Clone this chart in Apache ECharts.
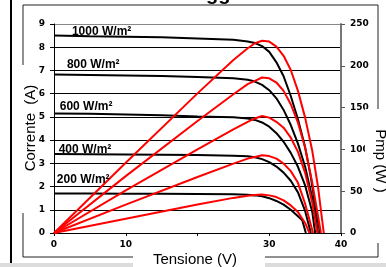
<!DOCTYPE html>
<html>
<head>
<meta charset="utf-8">
<script src="https://cdn.jsdelivr.net/npm/echarts@6/dist/echarts.min.js"></script>
<style>
html, body { margin: 0; padding: 0; background: #fff; }
#main { width: 386px; height: 267px; }
</style>
</head>
<body>
<div id="main"></div>
<script>
// curve names and where their labels sit (volt, ampere)
var irradiances = ['1000 W/m²', '800 W/m²', '600 W/m²', '400 W/m²', '200 W/m²'];
var labelAnchors = [[2.5, 8.68], [1.8, 7.25], [0.8, 5.44], [0.65, 3.59], [0.4, 2.3]];

// I-V curves (black, left axis)
var v1000 = [0, 5, 10, 15, 20, 25, 27, 28, 29, 30, 31, 32, 33, 34, 35, 35.8, 36.5, 37.1];
var i1000 = [8.5, 8.47, 8.45, 8.43, 8.38, 8.32, 8.25, 8.18, 8.05, 7.8, 7.35, 6.75, 5.9, 4.9, 3.7, 2.4, 1.0, 0];
var v800 = [0, 5, 10, 15, 20, 25, 27, 28, 29, 30, 31, 32, 33, 34, 35, 36, 36.8];
var i800 = [6.82, 6.8, 6.78, 6.76, 6.72, 6.66, 6.6, 6.52, 6.38, 6.15, 5.8, 5.3, 4.65, 3.85, 2.85, 1.5, 0];
var v600 = [0, 5, 10, 15, 20, 25, 27, 28, 29, 30, 31, 32, 33, 34, 35, 36, 36.4];
var i600 = [5.15, 5.13, 5.1, 5.07, 5.02, 4.98, 4.93, 4.87, 4.76, 4.58, 4.3, 3.93, 3.45, 2.85, 2.05, 0.9, 0];
var v400 = [0, 5, 10, 15, 20, 25, 27, 28, 29, 30, 31, 32, 33, 34, 35, 35.8];
var i400 = [3.4, 3.39, 3.38, 3.37, 3.36, 3.33, 3.3, 3.26, 3.18, 3.05, 2.86, 2.6, 2.25, 1.75, 0.95, 0];
var v200 = [0, 5, 10, 15, 20, 25, 27, 28, 29, 30, 31, 32, 33, 34, 34.6, 35.1];
var i200 = [1.7, 1.7, 1.69, 1.69, 1.68, 1.67, 1.65, 1.62, 1.58, 1.5, 1.38, 1.22, 1.0, 0.72, 0.55, 0];

// P-V curves (red, right axis)
var pv1000 = [0, 10, 20, 25, 27, 28, 29, 30, 31, 32, 33, 34, 35, 36, 36.8, 37.6];
var pp1000 = [0, 84, 167, 207, 221, 227, 230, 229, 223, 212, 195, 170, 138, 98, 55, 0];
var pv800 = [0, 10, 20, 25, 27, 28, 29, 30, 31, 32, 33, 34, 35, 36, 37.2];
var pp800 = [0, 68, 134, 166, 178, 182, 186, 185, 180, 170, 154, 132, 102, 60, 0];
var pv600 = [0, 10, 20, 25, 27, 28, 29, 30, 31, 32, 33, 34, 35, 36, 36.7];
var pp600 = [0, 51, 100, 124, 133, 137, 140, 138, 133, 126, 114, 97, 72, 36, 0];
var pv400 = [0, 10, 20, 25, 27, 28, 29, 30, 31, 32, 33, 34, 35, 36.1];
var pp400 = [0, 34, 67, 83, 89, 91, 93, 92, 89, 83, 74, 60, 35, 0];
var pv200 = [0, 10, 20, 25, 27, 28, 29, 30, 31, 32, 33, 34, 35, 35.6];
var pp200 = [0, 17, 34, 42, 44.5, 45.4, 46, 45, 43, 39, 33, 25, 12, 0];

var xTickLabels = ['0', '10', '', '30', '40'];

var ivSets = [[v1000, i1000], [v800, i800], [v600, i600], [v400, i400], [v200, i200]];
var pvSets = [[pv1000, pp1000], [pv800, pp800], [pv600, pp600], [pv400, pp400], [pv200, pp200]];

function pairs(xs, ys) {
	var out = [];
	for (var k = 0; k < xs.length; k++) out.push([xs[k], ys[k]]);
	return out;
}

var tickFont = { color: '#000', fontFamily: 'DejaVu Sans', fontWeight: 'bold', fontSize: 9 };

var series = [];
ivSets.forEach(function (s, n) {
	series.push({
		name: irradiances[n], type: 'line', yAxisIndex: 0, showSymbol: false, z: 3,
		lineStyle: { color: '#000', width: 2 },
		data: pairs(s[0], s[1])
	});
});
pvSets.forEach(function (s, n) {
	series.push({
		name: 'P ' + irradiances[n], type: 'line', yAxisIndex: 1, showSymbol: false, z: 4,
		lineStyle: { color: '#ff0000', width: 2 },
		data: pairs(s[0], s[1])
	});
});

var chart = echarts.init(document.getElementById('main'));
chart.setOption({
	animation: false,
	grid: { left: 54, right: 45, top: 24, bottom: 34 },
	xAxis: {
		type: 'value', min: 0, max: 40, interval: 10,
		axisLine: { lineStyle: { color: '#000', width: 1 } },
		axisTick: { show: true, length: 3, lineStyle: { color: '#000' } },
		axisLabel: Object.assign({ margin: 7, formatter: function (v) { return xTickLabels[v / 10]; } }, tickFont),
		splitLine: { show: false }
	},
	yAxis: [{
		type: 'value', min: 0, max: 9, interval: 1, position: 'left',
		axisLine: { show: true, lineStyle: { color: '#000', width: 1 } },
		axisTick: { show: true, length: 4, lineStyle: { color: '#000' } },
		axisLabel: Object.assign({ margin: 9 }, tickFont),
		splitLine: { show: true, lineStyle: { color: ['#000', '#000', '#000', '#000', '#000', '#000', '#000', '#000', '#000', '#888'], width: 1 } }
	}, {
		type: 'value', min: 0, max: 250, interval: 50, position: 'right',
		axisLine: { show: true, lineStyle: { color: '#777', width: 2 } },
		axisTick: { show: true, length: 4, lineStyle: { color: '#555' } },
		axisLabel: Object.assign({ margin: 9 }, tickFont),
		splitLine: { show: false }
	}],
	series: series
});

// frame, axis titles and curve labels
var graphics = [
	{ type: 'rect', shape: { x: 23, y: 5, width: 355, height: 252 }, style: { fill: null, stroke: '#222', lineWidth: 1 }, z: 100 },
	{ type: 'rect', shape: { x: 10, y: 0, width: 2, height: 263 }, style: { fill: '#000' }, z: 100 },
	{ type: 'rect', shape: { x: 0, y: 263, width: 386, height: 4 }, style: { fill: '#dcdcdc' }, z: 100 },
	{ type: 'rect', shape: { x: 19, y: 65, width: 18, height: 148 }, style: { fill: '#fff' }, z: 101 },
	{ type: 'rect', shape: { x: 133, y: 249, width: 132, height: 18 }, style: { fill: '#fff' }, z: 101 },
	{ type: 'rect', shape: { x: 365, y: 109, width: 21, height: 134 }, style: { fill: '#fff' }, z: 101 },
	{ type: 'text', x: 195, y: 260, z: 102, style: { text: 'Tensione (V)', font: '15px "Liberation Sans", Arial', fill: '#000', align: 'center', verticalAlign: 'middle' } },
	{ type: 'text', x: 31, y: 128, rotation: Math.PI / 2, z: 102, style: { text: 'Corrente  (A)', font: '15px "Liberation Sans", Arial', fill: '#000', align: 'center', verticalAlign: 'middle' } },
	{ type: 'text', x: 380, y: 161, rotation: -Math.PI / 2, z: 102, style: { text: 'Pmp (W )', font: '15px "Liberation Sans", Arial', fill: '#000', align: 'center', verticalAlign: 'middle' } },
	{ type: 'text', x: 206, y: 4, z: 102, style: { text: 'gg', font: 'bold 20px "Liberation Sans", Arial', fill: '#000', verticalAlign: 'bottom' } }
];
irradiances.forEach(function (name, n) {
	var p = chart.convertToPixel({ xAxisIndex: 0, yAxisIndex: 0 }, labelAnchors[n]);
	graphics.push({
		type: 'text', x: p[0], y: p[1], z: 102,
		style: { text: name, font: 'bold 12px "Liberation Sans", Arial', fill: '#000', align: 'left', verticalAlign: 'middle' }
	});
});
chart.setOption({ graphic: graphics });
</script>
</body>
</html>
